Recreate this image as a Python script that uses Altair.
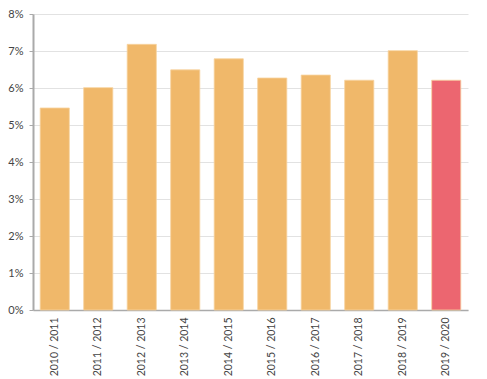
import altair as alt
import pandas as pd

years = ["2010 / 2011", "2011 / 2012", "2012 / 2013", "2013 / 2014", "2014 / 2015",
         "2015 / 2016", "2016 / 2017", "2017 / 2018", "2018 / 2019", "2019 / 2020"]
values = [5.46, 6.01, 7.18, 6.49, 6.79, 6.27, 6.35, 6.21, 7.01, 6.21]
highlight = [False] * 9 + [True]

df = pd.DataFrame({"year": years, "value": [v / 100 for v in values], "hl": highlight})

chart = alt.Chart(df).mark_bar(stroke="#F7D3A0", strokeWidth=0.8).encode(
    x=alt.X("year:N", sort=years, title=None,
            scale=alt.Scale(paddingInner=0.33, paddingOuter=0.165),
            axis=alt.Axis(labelAngle=-90, labelAlign="right", labelBaseline="middle",
                          ticks=False, labelPadding=7, domainColor="#aaaaaa",
                          domainWidth=1.5, labelFont="Lato", labelFontSize=10.5,
                          labelColor="#444444")),
    y=alt.Y("value:Q", title=None,
            scale=alt.Scale(domain=[0, 0.08]),
            axis=alt.Axis(format=".0%", values=[0, 0.01, 0.02, 0.03, 0.04, 0.05, 0.06, 0.07, 0.08],
                          domainColor="#aaaaaa", domainWidth=2, tickColor="#aaaaaa",
                          tickSize=4, labelPadding=6, gridColor="#e2e2e2",
                          labelFont="Lato", labelFontSize=11, labelColor="#444444")),
    color=alt.Color("hl:N", scale=alt.Scale(domain=[False, True], range=["#F0B86A", "#EC6670"]),
                    legend=None),
).properties(
    width=435, height=296,
    padding={"left": 25, "top": 6, "right": 11, "bottom": 68},
    autosize=alt.AutoSizeParams(type="none"),
).configure_view(stroke=None)

chart.save("out.html", embed_options={"renderer": "svg", "actions": False})
